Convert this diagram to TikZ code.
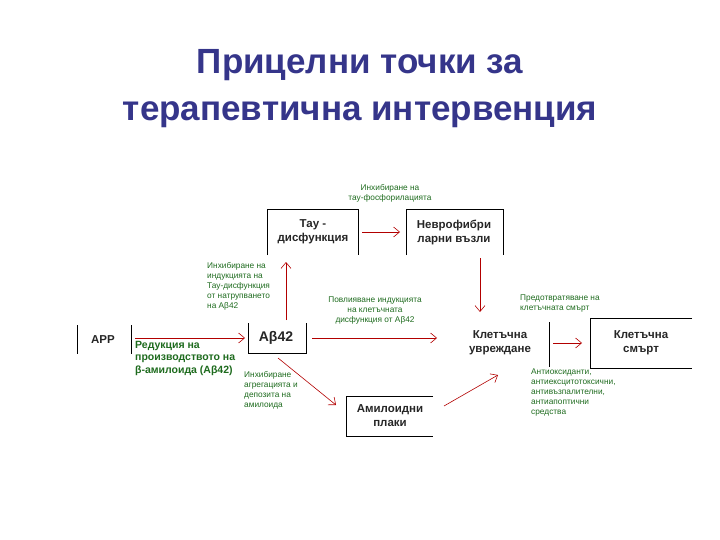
\documentclass[tikz,border=0pt]{standalone}
\usepackage{fontspec}
\setmainfont{Liberation Sans}
\usetikzlibrary{arrows.meta}
\definecolor{navy}{HTML}{35358A}
\definecolor{lgreen}{HTML}{1E6B1E}
\begin{document}
\begin{tikzpicture}[x=1pt,y=-1pt,
  box/.style={draw=black,line width=0.8pt},
  boxtxt/.style={font=\fontsize{11.5}{14}\selectfont\bfseries,align=center,text=black!85},
  lbl/.style={font=\fontsize{8.3}{10}\selectfont,text=lgreen,inner sep=0pt},
  arr/.style={draw=red!70!black,line width=0.6pt,-{Straight Barb[length=6pt,width=10pt]}}]
\useasboundingbox (0,0) rectangle (720,540);
\node[font=\fontsize{35}{47}\selectfont\bfseries,text=navy,align=center] (title) at (360,89) {Прицелни точки за\\терапевтична интервенция};
% boxes
\node[boxtxt] (app) at (103,340) {APP};
\draw[box] (77,325) -- (77,354) (131,325) -- (131,354);
\node[boxtxt,font=\fontsize{14}{16}\selectfont\bfseries] (ab) at (276,338) {Aβ42};
\draw[box] (248,323) -- (248,353) -- (306,353) -- (306,323);
\node[boxtxt] (tau) at (313,232) {Тау -\\дисфункция};
\draw[box] (267,255) -- (267,209) -- (358,209) -- (358,255);
\node[boxtxt] (nev) at (454,232) {Неврофибри\\ларни възли};
\draw[box] (406,255) -- (406,209) -- (503,209) -- (503,255);
\node[boxtxt] (uvr) at (500,343) {Клетъчна\\увреждане};
\draw[box] (549,322) -- (549,367);
\node[boxtxt] (smr) at (641,343) {Клетъчна\\смърт};
\draw[box] (692,318) -- (590,318) -- (590,368) -- (692,368);
\node[boxtxt] (pl) at (390,416) {Амилоидни\\плаки};
\draw[box] (433,396) -- (346,396) -- (346,436) -- (433,436);
% arrows
\coordinate (a1) at (135,338); \coordinate (a2) at (245,338);
\draw[arr] (a1) -- (a2);
\coordinate (b1) at (286,320); \coordinate (b2) at (286,262);
\draw[arr] (b1) -- (b2);
\coordinate (c1) at (362,232); \coordinate (c2) at (400,232);
\draw[arr] (c1) -- (c2);
\coordinate (d1) at (480,258); \coordinate (d2) at (480,312);
\draw[arr] (d1) -- (d2);
\coordinate (e1) at (312,338); \coordinate (e2) at (437,338);
\draw[arr] (e1) -- (e2);
\coordinate (f1) at (278,358); \coordinate (f2) at (336,405);
\draw[arr] (f1) -- (f2);
\coordinate (g1) at (444,406); \coordinate (g2) at (498,375);
\draw[arr] (g1) -- (g2);
\coordinate (h1) at (553,343); \coordinate (h2) at (582,343);
\draw[arr] (h1) -- (h2);
% labels
\node[lbl,align=center] (l1) at (390,193) {Инхибиране на\\тау-фосфорилацията};
\node[lbl,align=left,anchor=north west] (l2) at (207,262) {Инхибиране на\\индукцията на\\Тау-дисфункция\\от натрупването\\на Aβ42};
\node[lbl,align=center] (l3) at (375,311) {Повлияване индукцията\\на клетъчната\\дисфункция от Aβ42};
\node[lbl,align=left,anchor=north west] (l4) at (520,295) {Предотвратяване на\\клетъчната смърт};
\node[lbl,align=left,anchor=north west,font=\fontsize{10.5}{12.5}\selectfont\bfseries] (l5) at (135,341) {Редукция на\\производството на\\β-амилоида (Aβ42)};
\node[lbl,align=left,anchor=north west] (l6) at (244,371) {Инхибиране\\агрегацията и\\депозита на\\амилоида};
\node[lbl,align=left,anchor=north west] (l7) at (531,369) {Антиоксиданти,\\антиексцитотоксични,\\антивъзпалителни,\\антиапоптични\\средства};
\end{tikzpicture}
\end{document}
